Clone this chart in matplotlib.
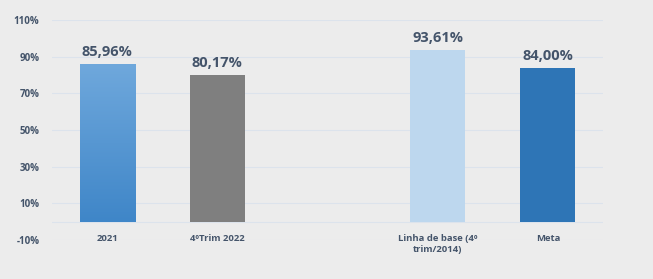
import numpy as np
import matplotlib.pyplot as plt
import matplotlib.transforms as mtrans
from matplotlib.colors import LinearSegmentedColormap

categories = ['2021', '4ºTrim 2022', '', 'Linha de base (4º\ntrim/2014)', 'Meta']
values = [85.96, 80.17, None, 93.61, 84.00]
value_labels = ['85,96%', '80,17%', '', '93,61%', '84,00%']
colors = ['#5B9BD5', '#7F7F7F', 'none', '#BDD7EE', '#2E75B6']
yticks = [-10, 10, 30, 50, 70, 90, 110]

txt = '#44546A'
bg = '#ECECEC'
plt.rcParams['font.family'] = ['Open Sans', 'DejaVu Sans']

fig = plt.figure(figsize=(6.53, 2.79), dpi=100, facecolor=bg)
ax = fig.add_axes([52/653, 1 - 240/279, 551/653, 220/279])
ax.set_facecolor(bg)

x = np.arange(len(categories))
h = [v if v is not None else 0 for v in values]
bars = ax.bar(x, h, width=0.5, color=colors, zorder=3)

# gradient fill for the first bar
b = bars[0]
grad = np.linspace(0, 1, 256).reshape(-1, 1)
cmap = LinearSegmentedColormap.from_list('g', ['#3F86C8', '#6FA8DC'])
im = ax.imshow(grad, cmap=cmap, aspect='auto', origin='lower',
               extent=[b.get_x(), b.get_x() + b.get_width(), 0, b.get_height()], zorder=4)
im.set_clip_path(b)

for xi, v, lab in zip(x, values, value_labels):
    if v is None:
        continue
    ax.text(xi, v + 2.5, lab, ha='center', va='bottom', fontsize=10.5,
            fontweight='bold', color=txt, zorder=5)

ax.set_xlim(-0.5, len(categories) - 0.5)
ax.set_ylim(-10, 110)
ax.set_yticks(yticks)
ax.set_yticklabels([f'{t}%' for t in yticks], fontsize=7, color=txt, fontweight='bold')
ax.set_xticks(x)
ax.set_xticklabels(categories, fontsize=6.8, color=txt, fontweight='bold', linespacing=1.3)
ax.tick_params(axis='y', length=0, pad=9)
ax.tick_params(axis='x', length=0, pad=4)
ax.grid(axis='y', color='#DCE3EC', linewidth=0.8, zorder=0)
ax.axhline(0, color='#DCE3EC', linewidth=0.8, zorder=1)
for s in ax.spines.values():
    s.set_visible(False)

# x labels sit just below the zero line
offset = mtrans.ScaledTranslation(0, 0.12, fig.dpi_scale_trans)
for lbl in ax.get_xticklabels():
    lbl.set_transform(lbl.get_transform() + offset)

fig.savefig('out.png', dpi=100, facecolor=bg)
